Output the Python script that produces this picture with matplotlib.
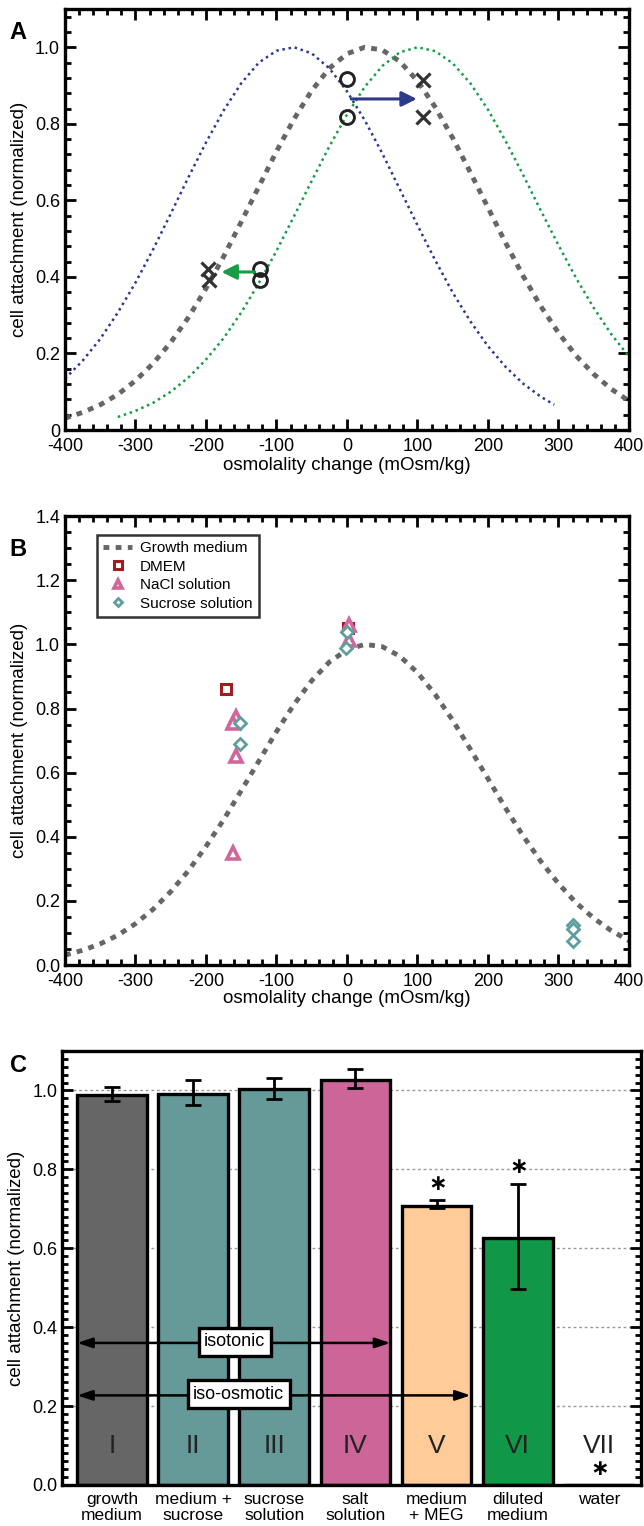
import matplotlib
matplotlib.use("Agg")
import matplotlib.pyplot as plt
from matplotlib.ticker import MultipleLocator, FuncFormatter, FormatStrFormatter

plt.rcParams['font.family'] = ['Liberation Sans', 'DejaVu Sans']
plt.rcParams['axes.unicode_minus'] = False

# ---------------- Panel A: fitted attachment curves ----------------
growth_x = [-400, -375, -350, -325, -300, -275, -250, -225, -200, -175, -150,
            -125, -100, -75, -50, -25, 0, 25, 50, 75, 100, 125, 150, 175, 200,
            225, 250, 275, 300, 325, 350, 375, 400]
growth_y = [0.031, 0.046, 0.066, 0.093, 0.129, 0.174, 0.229, 0.294, 0.370,
            0.453, 0.544, 0.636, 0.728, 0.813, 0.887, 0.945, 0.983, 1.000,
            0.993, 0.963, 0.912, 0.844, 0.763, 0.673, 0.581, 0.489, 0.402,
            0.323, 0.254, 0.194, 0.146, 0.107, 0.076]

hypo_x = [-400, -375, -350, -325, -300, -275, -250, -225, -200, -175, -150,
          -125, -100, -75, -50, -25, 0, 25, 50, 75, 100, 125, 150, 175, 200,
          225, 250, 275, 294]
hypo_y = [0.134, 0.181, 0.238, 0.307, 0.385, 0.472, 0.565, 0.660, 0.751,
          0.835, 0.906, 0.960, 0.991, 1.000, 0.984, 0.945, 0.885, 0.810,
          0.723, 0.629, 0.535, 0.444, 0.359, 0.284, 0.219, 0.165, 0.121,
          0.087, 0.066]

hyper_x = [-325, -300, -275, -250, -225, -200, -175, -150, -125, -100, -75,
           -50, -25, 0, 25, 50, 75, 100, 125, 150, 175, 200, 225, 250, 275,
           300, 325, 350, 375, 400]
hyper_y = [0.034, 0.050, 0.071, 0.100, 0.137, 0.184, 0.240, 0.307, 0.384,
           0.468, 0.559, 0.651, 0.741, 0.824, 0.896, 0.951, 0.987, 1.000,
           0.990, 0.958, 0.906, 0.837, 0.755, 0.666, 0.573, 0.483, 0.397,
           0.319, 0.250, 0.192]

a_circle_x = [0, 0, -124, -124]
a_circle_y = [0.916, 0.817, 0.422, 0.391]
a_cross_x = [108, 108, -197, -196]
a_cross_y = [0.915, 0.817, 0.422, 0.391]

# ---------------- Panel B: measured attachment ----------------
dmem_x = [-171, 1]
dmem_y = [0.861, 1.051]
nacl_x = [-158, -161, -158, -162, 3, 3]
nacl_y = [0.775, 0.755, 0.652, 0.349, 1.060, 1.015]
sucrose_x = [-152, -152, 0, -2, 321, 321, 321]
sucrose_y = [0.755, 0.690, 1.038, 0.989, 0.126, 0.113, 0.076]

# ---------------- Panel C: bar chart ----------------
bar_numerals = ['I', 'II', 'III', 'IV', 'V', 'VI', 'VII']
bar_labels = ['growth\nmedium', 'medium +\nsucrose', 'sucrose\nsolution',
              'salt\nsolution', 'medium\n+ MEG', 'diluted\nmedium', 'water']
bar_values = [0.988, 0.991, 1.003, 1.027, 0.708, 0.627, 0.0]
err_lo = [0.014, 0.028, 0.026, 0.021, 0.006, 0.130, 0.0]
err_hi = [0.021, 0.035, 0.029, 0.026, 0.013, 0.137, 0.0]
significant = [False, False, False, False, True, True, True]
bar_colors = ['#666666', '#669a99', '#669a99', '#cc6699', '#ffcc99',
              '#109848', '#000000']

GRAY = '#666666'
BLUE = '#2c3a8c'
GREEN = '#189c48'
TICK_FS = 13
LABEL_FS = 13.5

fig = plt.figure(figsize=(6.44, 15.26), dpi=100)


def style_axes(ax, right=True, top=True):
    for s in ax.spines.values():
        s.set_linewidth(2.4)
    ax.tick_params(which='both', direction='in', top=top, right=right,
                   width=2.0, labelsize=TICK_FS, pad=3.5, colors='black')
    ax.tick_params(which='major', length=8)
    ax.tick_params(which='minor', length=4.5)
    ax.tick_params(axis='x', pad=6)


def gray_curve(ax, label=None):
    ax.plot(growth_x, growth_y, color=GRAY, lw=3.5,
            linestyle=(0, (1.2, 1.3)), dash_capstyle='butt', label=label,
            zorder=2)


# ---------- A ----------
axA = fig.add_axes([0.1009, 0.7182, 0.8758, 0.2759])
gray_curve(axA)
axA.plot(hypo_x, hypo_y, color=BLUE, lw=1.8, linestyle=(0, (1, 1.5)), zorder=2)
axA.plot(hyper_x, hyper_y, color=GREEN, lw=1.8, linestyle=(0, (1, 1.5)), zorder=2)
axA.plot(a_circle_x, a_circle_y, linestyle='none', marker='o', ms=10,
         mfc='none', mec='#222222', mew=2.1, zorder=4)
axA.plot(a_cross_x, a_cross_y, linestyle='none', marker='x', ms=10.5,
         mec='#333333', mew=2.3, zorder=4)
axA.annotate('', xy=(99, 0.865), xytext=(6, 0.865),
             arrowprops=dict(arrowstyle='-|>,head_length=0.9,head_width=0.45',
                             color=BLUE, lw=2.2, shrinkA=0, shrinkB=0), zorder=5)
axA.annotate('', xy=(-178, 0.413), xytext=(-131, 0.413),
             arrowprops=dict(arrowstyle='-|>,head_length=0.9,head_width=0.45',
                             color=GREEN, lw=2.2, shrinkA=0, shrinkB=0), zorder=5)
axA.set_xlim(-400, 400)
axA.set_ylim(0, 1.1)
axA.xaxis.set_major_locator(MultipleLocator(100))
axA.xaxis.set_minor_locator(MultipleLocator(20))
axA.yaxis.set_major_locator(MultipleLocator(0.2))
axA.yaxis.set_minor_locator(MultipleLocator(0.04))
axA.yaxis.set_major_formatter(FuncFormatter(lambda v, p: '0' if abs(v) < 1e-9 else f'{v:.1f}'))
style_axes(axA)
axA.set_xlabel('osmolality change (mOsm/kg)', fontsize=LABEL_FS, labelpad=1)
axA.set_ylabel('cell attachment (normalized)', fontsize=LABEL_FS, labelpad=5)
fig.text(0.015, 0.9785, 'A', fontsize=17, fontweight='bold', va='center')

# ---------- B ----------
axB = fig.add_axes([0.1009, 0.3676, 0.8758, 0.2942])
gray_curve(axB, label='Growth medium')
axB.plot(dmem_x, dmem_y, linestyle='none', marker='s', ms=7, mfc='white',
         mec='#a31c22', mew=2.2, label='DMEM', zorder=3)
axB.plot(nacl_x, nacl_y, linestyle='none', marker='^', ms=8.5, mfc='white',
         mec='#d0669a', mew=2.6, label='NaCl solution', zorder=4)
axB.plot(sucrose_x, sucrose_y, linestyle='none', marker='D', ms=6, mfc='white',
         mec='#5f9e9e', mew=2.0, label='Sucrose solution', zorder=5)
axB.set_xlim(-400, 400)
axB.set_ylim(0, 1.4)
axB.xaxis.set_major_locator(MultipleLocator(100))
axB.xaxis.set_minor_locator(MultipleLocator(20))
axB.yaxis.set_major_locator(MultipleLocator(0.2))
axB.yaxis.set_minor_locator(MultipleLocator(0.05))
axB.yaxis.set_major_formatter(FormatStrFormatter('%.1f'))
style_axes(axB)
axB.set_xlabel('osmolality change (mOsm/kg)', fontsize=LABEL_FS, labelpad=0)
axB.set_ylabel('cell attachment (normalized)', fontsize=LABEL_FS, labelpad=5)
leg = axB.legend(loc='upper left', bbox_to_anchor=(0.057, 0.958),
                 borderaxespad=0, fancybox=False, frameon=True, fontsize=11,
                 handlelength=1.9, handletextpad=0.5, labelspacing=0.3,
                 borderpad=0.4, markerscale=0.75)
leg.get_frame().set_edgecolor('black')
leg.get_frame().set_linewidth(1.8)
fig.text(0.015, 0.6396, 'B', fontsize=17, fontweight='bold', va='center')

# ---------- C ----------
axC = fig.add_axes([0.0963, 0.0269, 0.8991, 0.2844])
xs = list(range(len(bar_values)))
axC.set_axisbelow(True)
axC.yaxis.grid(True, which='major', linestyle=(0, (2, 2)), color='#999999', lw=1.0)
axC.bar(xs, bar_values, width=0.86, color=bar_colors, edgecolor='black',
        linewidth=2.4, zorder=2)
n_err = 6
axC.errorbar(xs[:n_err], bar_values[:n_err], yerr=[err_lo[:n_err], err_hi[:n_err]],
             fmt='none', ecolor='black', elinewidth=2.0, capsize=5.5,
             capthick=2.0, zorder=3)
for x, num in zip(xs, bar_numerals):
    axC.text(x, 0.098, num, ha='center', va='center', fontsize=19,
             color='#222222', zorder=4)
# significance markers (mathtext keeps the box tight to the glyph)
for x, v, e, sig in zip(xs, bar_values, err_hi, significant):
    if sig:
        axC.text(x, v + e + 0.040, r'$\mathbf{\ast}$', ha='center', va='center',
                 fontsize=16, color='black', zorder=4)
axC.annotate('', xy=(-0.43, 0.36), xytext=(3.43, 0.36),
             arrowprops=dict(arrowstyle='<|-|>,head_length=0.9,head_width=0.3',
                             color='black', lw=1.8, shrinkA=0, shrinkB=0), zorder=5)
axC.annotate('', xy=(-0.43, 0.227), xytext=(4.42, 0.227),
             arrowprops=dict(arrowstyle='<|-|>,head_length=0.9,head_width=0.3',
                             color='black', lw=1.8, shrinkA=0, shrinkB=0), zorder=5)
box = dict(boxstyle='square,pad=0.3', fc='white', ec='black', lw=2.4)
axC.text(1.51, 0.363, 'isotonic', ha='center', va='center', fontsize=13,
         bbox=box, zorder=6)
axC.text(1.56, 0.23, 'iso-osmotic', ha='center', va='center', fontsize=13,
         bbox=box, zorder=6)
axC.set_xlim(-0.617, 6.52)
axC.set_ylim(0, 1.1)
axC.yaxis.set_major_locator(MultipleLocator(0.2))
axC.yaxis.set_minor_locator(MultipleLocator(0.02))
axC.yaxis.set_major_formatter(FormatStrFormatter('%.1f'))
style_axes(axC, right=True, top=False)
axC.set_xticks(xs)
axC.set_xticklabels(bar_labels)
axC.tick_params(axis='x', which='both', length=0, pad=5, labelsize=12.5)
for t in axC.get_xticklabels():
    t.set_linespacing(1.12)
axC.set_ylabel('cell attachment (normalized)', fontsize=LABEL_FS, labelpad=5)
fig.text(0.015, 0.3018, 'C', fontsize=17, fontweight='bold', va='center')

fig.savefig('out.png', dpi=100)
